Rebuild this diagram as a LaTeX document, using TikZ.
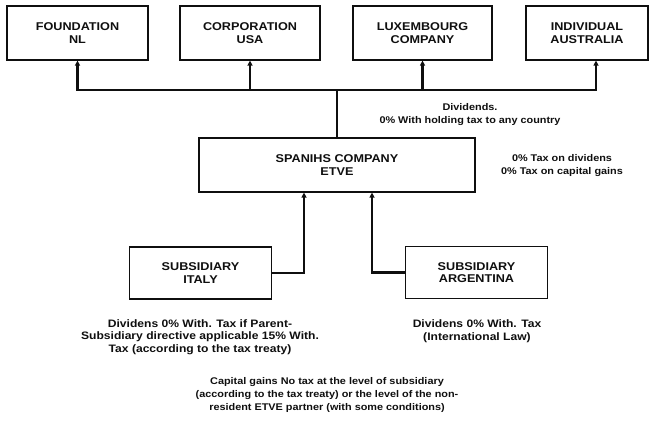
\documentclass[tikz,border=0pt]{standalone}
\usepackage{fontspec}
\setmainfont{Liberation Sans}[FakeStretch=1.12]
\usetikzlibrary{arrows.meta, positioning}
\definecolor{inkcolor}{RGB}{15, 15, 15}
\tikzset{
  entbox/.style={rectangle, draw=inkcolor, line width=1.2pt, align=center, inner sep=0pt, font=\fontsize{11.3}{12.5}\selectfont\bfseries, text=inkcolor},
  topbox/.style={entbox, minimum height=54pt},
  subbox/.style={entbox, minimum width=142pt, minimum height=52pt},
  note/.style={align=center, inner sep=0pt, font=\fontsize{10.8}{12.5}\selectfont\bfseries, text=inkcolor},
  smallnote/.style={note, font=\fontsize{9.7}{13}\selectfont\bfseries},
  arr/.style={-{Triangle[length=5pt, width=5pt]}, line width=2.2pt, color=inkcolor},
  link/.style={line width=2.2pt, color=inkcolor}
}

\begin{document}
\begin{tikzpicture}[x=1pt, y=-1pt]

  \useasboundingbox (0,0) rectangle (658,428);

  % shareholders
  \node[topbox, minimum width=141pt] (fnl)  at (77.5,33)  {FOUNDATION\\NL};
  \node[topbox, minimum width=140pt] (cusa) at (250,33)   {CORPORATION\\USA};
  \node[topbox, minimum width=139pt] (lux)  at (422.5,33) {LUXEMBOURG\\COMPANY};
  \node[topbox, minimum width=122pt] (iaus) at (587,33)   {INDIVIDUAL\\AUSTRALIA};

  % holding
  \node[entbox, minimum width=276pt, minimum height=54pt] (etve) at (337,165) {SPANIHS COMPANY\\ETVE};

  % subsidiaries
  \node[subbox] (ita) at (200.5,273) {SUBSIDIARY\\ITALY};
  \node[subbox] (arg) at (476.5,272.5) {SUBSIDIARY\\ARGENTINA};

  \coordinate (hub) at (337,90);
  \draw[link] (etve.north) -- (hub);
  \draw[arr] (hub) -| (fnl.south);
  \draw[arr] (hub) -| (cusa.south);
  \draw[arr] (hub) -| (lux.south);
  \draw[arr] (hub) -| ([xshift=9pt]iaus.south);

  \draw[arr] (ita.east) -| ([xshift=-33pt]etve.south);
  \draw[arr] (arg.west) -| ([xshift=35pt]etve.south);

  % notes
  \node[smallnote] (divtxt)  at (470,115) {Dividends.\\0\% With holding tax to any country};
  \node[smallnote] (etvetxt) at (562,166) {0\% Tax on dividens\\0\% Tax on capital gains};
  \node[note] (itatxt)  at (200,337) {Dividens 0\% With. Tax if Parent-\\Subsidiary directive applicable 15\% With.\\Tax (according to the tax treaty)};
  \node[note] (argtxt)  at (477,331) {Dividens 0\% With. Tax\\(International Law)};
  \node[smallnote] (captxt)  at (327,395) {Capital gains No tax at the level of subsidiary\\(according to the tax treaty) or the level of the non-\\resident ETVE partner (with some conditions)};

\end{tikzpicture}
\end{document}
